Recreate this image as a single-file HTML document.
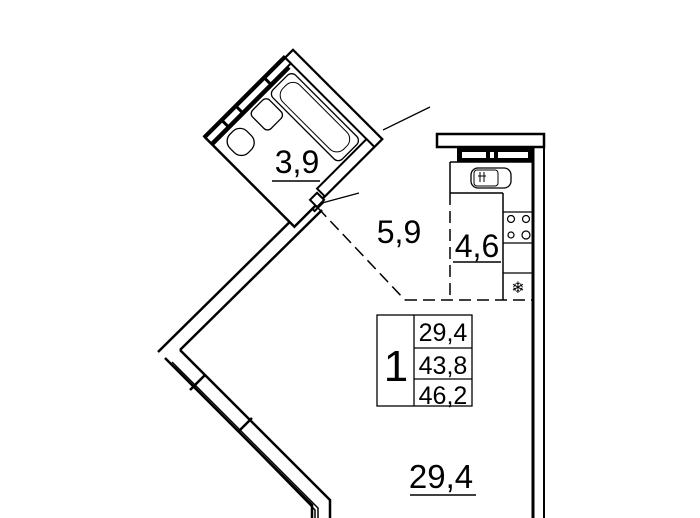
<!DOCTYPE html>
<html><head><style>body{margin:0;background:#fff}svg{display:block}text{font-family:"Liberation Sans",sans-serif;fill:#000}</style></head><body>
<svg width="700" height="518" viewBox="0 0 700 518" xmlns="http://www.w3.org/2000/svg" fill="none" stroke="#000">
<!-- right wall -->
<line x1="533" y1="147" x2="533" y2="518" stroke-width="3"/>
<line x1="544" y1="135" x2="544" y2="518" stroke-width="2"/>
<rect x="437" y="134" width="107" height="13" stroke-width="2.5" fill="#fff"/>
<rect x="457" y="148" width="76" height="14" fill="#000" stroke="none"/>
<rect x="462" y="152" width="24" height="6" fill="#fff" stroke="none"/>
<rect x="490" y="152" width="4" height="6" fill="#fff" stroke="none"/>
<rect x="498" y="152" width="30" height="6" fill="#fff" stroke="none"/>
<!-- kitchen -->
<line x1="450" y1="162" x2="450" y2="193" stroke-width="1.5"/>
<line x1="450" y1="162" x2="533" y2="162" stroke-width="1.5"/>
<line x1="450" y1="193" x2="503" y2="193" stroke-width="1.5"/>
<line x1="503" y1="193" x2="503" y2="300" stroke-width="1.5"/>
<rect x="471" y="168" width="40" height="20" rx="7" stroke-width="1.3"/>
<rect x="474" y="170" width="24" height="16" rx="3" stroke-width="1"/>
<path d="M480 172v10M484 172v10M478 176h8" stroke-width="1"/>
<line x1="503" y1="212" x2="533" y2="212" stroke-width="1.3"/>
<line x1="503" y1="243" x2="533" y2="243" stroke-width="1.3"/>
<line x1="503" y1="273" x2="533" y2="273" stroke-width="1.3"/>
<circle cx="511" cy="219" r="3.5" stroke-width="1.2"/><circle cx="526" cy="219" r="3.5" stroke-width="1.2"/>
<circle cx="511" cy="235" r="3" stroke-width="1.2"/><circle cx="526" cy="235" r="4" stroke-width="1.2"/>
<text x="518" y="293" font-size="16" text-anchor="middle" stroke="none">❄</text>
<path d="M450 193V300M405 300H533" stroke-width="1.5" stroke-dasharray="12 6"/>
<path d="M318 208L405 300" stroke-width="1.5" stroke-dasharray="12 6"/>
<!-- main diagonal walls -->
<path d="M312 200L158 352" stroke-width="2.5"/>
<path d="M322 210L180 350" stroke-width="2.5"/>
<rect x="-6" y="-4" width="12" height="8" transform="translate(316,204) rotate(-45)" stroke-width="2" fill="#fff"/>
<path d="M180 350L330 500V518" stroke-width="2.5"/>
<path d="M165 358L312 505V518" stroke-width="2.5"/>
<path d="M172 362L318 508V518" stroke-width="1.5"/>
<path d="M175 367L315 510V518" stroke-width="1.5"/>
<path d="M205 375L190 390M252 418L238 432" stroke-width="2.5"/>
<line x1="383" y1="130" x2="430" y2="107" stroke-width="1.3"/>
<line x1="322" y1="203" x2="359" y2="193" stroke-width="1.3"/>
<!-- bathroom -->
<g transform="translate(293,50) rotate(45)">
<rect x="0" y="0" width="126" height="124" stroke-width="2.5" fill="#fff"/>
<rect x="0" y="0" width="126" height="11" stroke-width="2" fill="#fff"/>
<rect x="-2" y="11" width="10" height="113" stroke-width="2"/>
<line x1="10" y1="15" x2="10" y2="124" stroke-width="3"/>
<rect x="115" y="11" width="11" height="70" stroke-width="2" fill="#fff"/>
<rect x="14" y="16" width="98" height="32" rx="6" stroke-width="1.3"/>
<rect x="20" y="20" width="86" height="24" rx="10" stroke-width="1"/>
<rect x="14" y="52" width="26" height="24" rx="5" stroke-width="1.3"/>
<rect x="15" y="90" width="26" height="24" rx="10" stroke-width="1.3"/>
<path d="M-2 40h12M-2 80h12M-2 100h12" stroke-width="3"/>
<rect x="118" y="84" width="10" height="10" stroke-width="2" fill="#fff"/>
</g>
<!-- labels -->
<text x="297" y="173" font-size="32" text-anchor="middle" stroke="none">3,9</text>
<line x1="272" y1="181" x2="320" y2="181" stroke-width="1.5"/>
<text x="399" y="243" font-size="32" text-anchor="middle" stroke="none">5,9</text>
<text x="477" y="257" font-size="32" text-anchor="middle" stroke="none">4,6</text>
<line x1="453" y1="262" x2="501" y2="262" stroke-width="1.5"/>
<text x="441" y="488" font-size="33" text-anchor="middle" stroke="none">29,4</text>
<line x1="410" y1="495" x2="476" y2="495" stroke-width="1.5"/>
<rect x="377" y="315" width="95" height="91" stroke-width="1.3"/>
<line x1="414" y1="315" x2="414" y2="406" stroke-width="1.3"/>
<line x1="414" y1="348" x2="472" y2="348" stroke-width="1.3"/>
<line x1="414" y1="379" x2="472" y2="379" stroke-width="1.3"/>
<text x="396" y="381" font-size="44" text-anchor="middle" stroke="none">1</text>
<text x="443" y="341" font-size="25" text-anchor="middle" stroke="none">29,4</text>
<text x="443" y="374" font-size="25" text-anchor="middle" stroke="none">43,8</text>
<text x="443" y="404" font-size="25" text-anchor="middle" stroke="none">46,2</text>
</svg>
</body></html>
